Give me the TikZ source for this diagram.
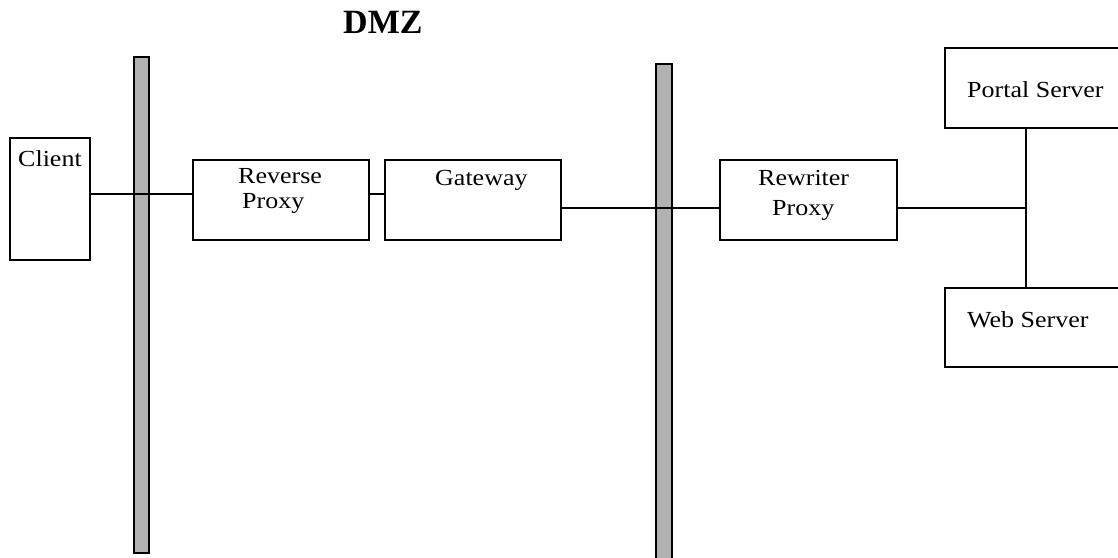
\documentclass[tikz,border=0pt]{standalone}
\usepackage{fontspec}
\setmainfont{Liberation Serif}
\newcommand\wideText[1]{\scalebox{1.13}[1]{#1}}
\begin{document}
\begin{tikzpicture}[x=1pt,y=-1pt,
  box/.style={draw=black, line width=1.5pt, fill=white, rectangle, inner sep=0pt},
  fw/.style={draw=black, line width=1.5pt, fill=black!30, rectangle, inner sep=0pt},
  lbl/.style={inner sep=0pt, font=\fontsize{23}{27}\selectfont, anchor=base west},
  wire/.style={draw=black, line width=1.5pt}]
\clip (0,0) rectangle (1118,557);
% firewalls
\node[fw, minimum width=15pt, minimum height=496pt] (fw1) at (141.5,305) {};
\node[fw, minimum width=16pt, minimum height=510pt] (fw2) at (664,319) {};
% boxes
\node[box, minimum width=80pt, minimum height=122pt] (client) at (50,199) {};
\node[box, minimum width=176pt, minimum height=80pt] (rp) at (281,200) {};
\node[box, minimum width=176pt, minimum height=80pt] (gw) at (473,200) {};
\node[box, minimum width=177pt, minimum height=80pt] (rw) at (808.5,200) {};
\node[box, minimum width=180pt, minimum height=80pt] (portal) at (1035,88) {};
\node[box, minimum width=180pt, minimum height=79pt] (web) at (1035,327.5) {};
% labels
\node[font=\bfseries\fontsize{34}{36}\selectfont, inner sep=0pt, anchor=base west] (dmz) at (343,33) {DMZ};
\node[lbl] (tclient) at (18,166) {\wideText{Client}};
\node[lbl] (trp1) at (238,183) {\wideText{Reverse}};
\node[lbl] (trp2) at (242,208) {\wideText{Proxy}};
\node[lbl] (tgw) at (435,185) {\wideText{Gateway}};
\node[lbl] (trw1) at (758,185) {\wideText{Rewriter}};
\node[lbl] (trw2) at (772,215) {\wideText{Proxy}};
\node[lbl] (tportal) at (967,97) {\wideText{Portal Server}};
\node[lbl] (tweb) at (967,327) {\wideText{Web Server}};
% connectors
\coordinate (j) at (1026,208);
\draw[wire] ([yshift=5pt]client.east) -- ([yshift=6pt]rp.west);
\draw[wire] ([yshift=6pt]rp.east) -- ([yshift=6pt]gw.west);
\draw[wire] ([yshift=-8pt]gw.east) -- ([yshift=-8pt]rw.west);
\draw[wire] ([yshift=-8pt]rw.east) -- (j);
\draw[wire] (portal.south -| j) -- (web.north -| j);
\end{tikzpicture}
\end{document}
